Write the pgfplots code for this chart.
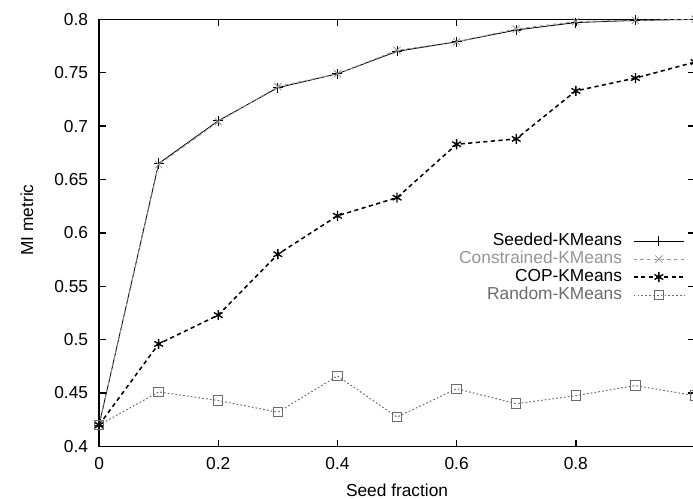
\documentclass[border=0pt]{standalone}
\usepackage{fontspec}
\setmainfont{Liberation Sans}
\usepackage{pgfplots}
\usepackage{pgfplotstable}
\pgfplotsset{compat=1.18}

\definecolor{constrgray}{gray}{0.58}
\definecolor{randgray}{gray}{0.42}

% MI metric against seed fraction, one table per algorithm
\pgfplotstableread{
x    y
0.0  0.420
0.1  0.665
0.2  0.705
0.3  0.736
0.4  0.749
0.5  0.770
0.6  0.779
0.7  0.790
0.8  0.797
0.9  0.799
1.0  0.800
}\seeded
\pgfplotstableread{
x    y
0.0  0.420
0.1  0.664
0.2  0.704
0.3  0.737
0.4  0.749
0.5  0.771
0.6  0.779
0.7  0.791
0.8  0.798
0.9  0.799
1.0  0.800
}\constrained
\pgfplotstableread{
x    y
0.0  0.420
0.1  0.496
0.2  0.523
0.3  0.580
0.4  0.616
0.5  0.633
0.6  0.683
0.7  0.688
0.8  0.733
0.9  0.745
1.0  0.760
}\cop
\pgfplotstableread{
x    y
0.0  0.420
0.1  0.451
0.2  0.443
0.3  0.432
0.4  0.466
0.5  0.4275
0.6  0.454
0.7  0.440
0.8  0.4475
0.9  0.457
1.0  0.4475
}\randomkm

\begin{document}
\begin{tikzpicture}[font=\fontsize{10.3}{12.4}\selectfont]
\clip (-58.9pt,-31.2pt) rectangle (353.1pt,265.4pt);
\begin{axis}[
  at={(0,0)}, anchor=south west,
  scale only axis, width=354.3pt, height=253.9pt,
  xmin=0, xmax=1, ymin=0.4, ymax=0.8,
  xtick={0,0.2,0.4,0.6,0.8},
  ytick={0.4,0.45,0.5,0.55,0.6,0.65,0.7,0.75,0.8},
  tick align=inside, major tick length=4pt,
  every tick/.style={black, line width=0.9pt},
  axis line style={line width=1pt},
  /pgf/number format/assume math mode=true,
  xticklabel style={/pgf/number format/fixed, yshift=-3pt},
  yticklabel style={/pgf/number format/fixed, /pgf/number format/precision=2, xshift=-3pt},
  xlabel={Seed fraction}, ylabel={MI metric},
  xlabel style={at={(axis description cs:0.5,-0.102)}, anchor=center},
  ylabel style={at={(axis description cs:-0.121,0.53)}, anchor=center},
  legend cell align=right,
  legend plot pos=right,
  legend style={draw=none, fill=none, at={(axis description cs:0.983,0.502)},
    anchor=north east, inner sep=0pt, outer sep=0pt, row sep=0pt,
    /tikz/column 1/.style={column sep=6.5pt},
    nodes={inner xsep=0pt, inner ysep=0.6pt, text height=7.6pt, text depth=1.9pt}},
  legend image code/.code={%
    \draw[mark repeat=2, mark phase=2, #1] plot coordinates {(0pt,0pt) (15pt,0pt) (30pt,0pt)};},
]
\addplot[black, line width=0.5pt, mark=+, mark size=3pt,
  mark options={solid, line width=0.5pt}] table {\seeded};
\addlegendentry{Seeded-KMeans}
\addplot[constrgray, line width=0.6pt, dash pattern=on 2pt off 2pt, mark=x, mark size=3pt,
  mark options={solid, line width=0.5pt}] table {\constrained};
\addlegendentry[text=constrgray]{Constrained-KMeans}
\addplot[black, line width=0.9pt, dash pattern=on 2.5pt off 2pt, mark=asterisk, mark size=3pt,
  mark options={solid, line width=0.8pt}] table {\cop};
\addlegendentry{COP-KMeans}
\addplot[randgray, line width=0.6pt, dash pattern=on 1pt off 1.3pt, mark=square, mark size=2.8pt,
  mark options={solid, line width=0.6pt}] table {\randomkm};
\addlegendentry[text=randgray]{Random-KMeans}
\end{axis}
\end{tikzpicture}
\end{document}
